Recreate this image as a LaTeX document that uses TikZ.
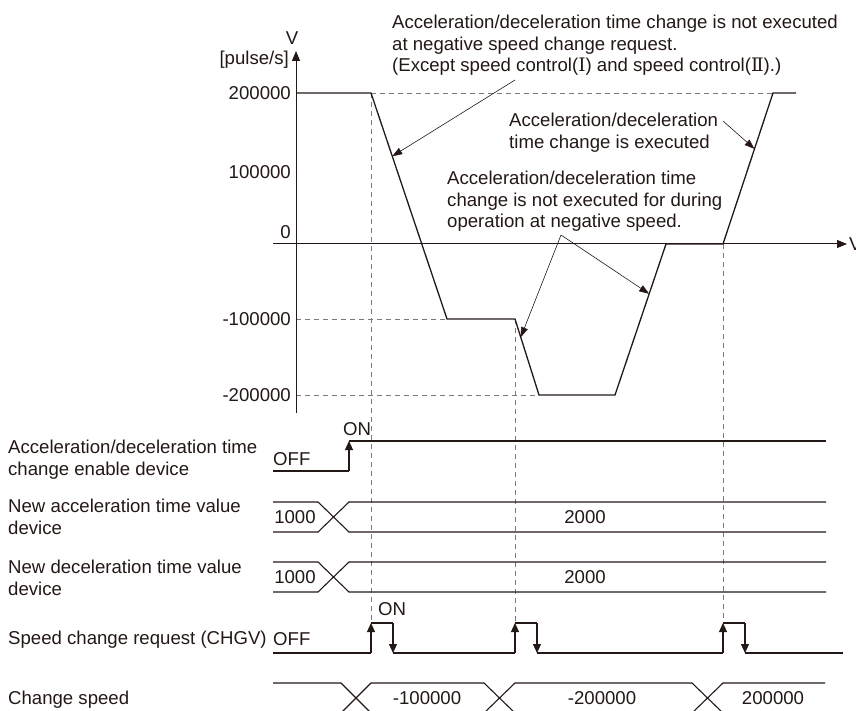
\documentclass[tikz,border=0pt]{standalone}
\usepackage{fontspec}
\setmainfont{Liberation Sans}
\newfontfamily\numeralfont{DejaVu Serif}
\usepackage{xcolor}
\usetikzlibrary{arrows.meta, calc}
\definecolor{ink}{HTML}{231815}
\definecolor{dashgrey}{HTML}{7a7a7a}

\begin{document}
\begin{tikzpicture}[x=1pt, y=-1pt, font=\fontsize{18.6}{21.6}\selectfont,
    wave/.style={draw=ink, line width=1.1pt},
    guideline/.style={draw=dashgrey, line width=0.9pt, dash pattern=on 5pt off 4pt},
    pointer/.style={draw=ink, line width=0.6pt, -{Triangle[length=10pt, width=7pt]}},
    edgeup/.style={wave, -{Triangle[length=9pt, width=8pt]}},
    txt/.style={inner sep=0pt, text=ink}]
  \useasboundingbox (0,0) rectangle (856,711);

  % Speed profile corners
  \coordinate (p0) at (296,93);
  \coordinate (p1) at (371,93);
  \coordinate (p2) at (447,319);
  \coordinate (p3) at (515,319);
  \coordinate (p4) at (539,395);
  \coordinate (p5) at (615,395);
  \coordinate (p6) at (666,244);
  \coordinate (p7) at (723,244);
  \coordinate (p8) at (773,93);
  \coordinate (p9) at (796,93);

  % Guides
  \draw[guideline] (p1) -- (p8);
  \draw[guideline] (296,319) -- (p2);
  \draw[guideline] (296,395) -- (p4);
  \foreach \x/\y in {371/93, 515/319, 723/244}
    \draw[guideline] (\x,\y) -- (\x,623);

  % Axes
  \draw[ink, line width=1pt, -{Triangle[length=10pt, width=8pt]}] (296,413) -- (296,51);
  \draw[ink, line width=1pt, -{Triangle[length=10pt, width=8pt]}] (273,244) -- (847,244);
  \node[txt] (vTop) at (292,38) {V};
  \node[txt, anchor=east] (unitLbl) at (289,60) {[pulse/s]};
  \node[txt, anchor=west] (vRight) at (849,244) {V};
  \foreach \y/\v [count=\i] in {93/200000, 172/100000, 232/0, 319/-100000, 395/-200000}
    \node[txt, anchor=east] (tick\i) at (291,\y) {\v};

  % Speed profile
  \draw[wave, line width=1.3pt] (p0) -- (p1) -- (p2) -- (p3) -- (p4) -- (p5) -- (p6) -- (p7) -- (p8) -- (p9);

  % Notes
  \node[txt, anchor=north west, align=left] (noteNeg) at (392,15)
    {Acceleration/deceleration time change is not executed\\at negative speed change request.\\(Except speed control({\numeralfont Ⅰ}) and speed control({\numeralfont Ⅱ}).)};
  \node[txt, anchor=north west, align=left] (noteExec) at (509,113)
    {Acceleration/deceleration\\time change is executed};
  \node[txt, anchor=north west, align=left] (noteHold) at (447,171)
    {Acceleration/deceleration time\\change is not executed for during\\operation at negative speed.};
  \coordinate (s1) at (515,80);
  \coordinate (s2) at (723,121);
  \coordinate (s3) at (561,235);
  \coordinate (t1) at ($(p1)!0.28!(p2)$);
  \coordinate (t2) at ($(p7)!0.63!(p8)$);
  \coordinate (t3) at ($(p3)!0.24!(p4)$);
  \coordinate (t4) at ($(p5)!0.67!(p6)$);
  \draw[pointer] (s1) -- (t1);
  \draw[pointer] (s2) -- (t2);
  \draw[pointer] (s3) -- (t3);
  \draw[pointer] (s3) -- (t4);

  % Timing chart labels
  \node[txt, anchor=north west, align=left] (enableLbl) at (8,440) {Acceleration/deceleration time\\change enable device};
  \node[txt, anchor=north west, align=left] (accLbl) at (8,499) {New acceleration time value\\device};
  \node[txt, anchor=north west, align=left] (decLbl) at (8,560) {New deceleration time value\\device};
  \node[txt, anchor=north west] (chgvLbl) at (8,631) {Speed change request (CHGV)};
  \node[txt, anchor=north west] (speedLbl) at (8,691) {Change speed};

  % Enable device
  \draw[wave] (273,471) -- (349,471);
  \draw[edgeup] (349,471) -- (349,441);
  \draw[wave] (349,441) -- (826,441);
  \node[txt, anchor=west] (off1) at (273,459) {OFF};
  \node[txt] (on1) at (357,429) {ON};

  % New time value devices
  \foreach \y [count=\i] in {502, 562} {
    \draw[wave] (273,\y) -- (318,\y) -- (349,\y+30) -- (826,\y+30);
    \draw[wave] (273,\y+30) -- (318,\y+30) -- (349,\y) -- (826,\y);
    \node[txt] (oldVal\i) at (295,\y+15) {1000};
    \node[txt] (newVal\i) at (585,\y+15) {2000};
  }

  % Speed change request
  \draw[wave] (273,653) -- (371,653);
  \foreach \x/\n in {371/515, 515/723, 723/843} {
    \draw[edgeup] (\x,653) -- (\x,623);
    \draw[wave] (\x,623) -- (\x+22,623);
    \draw[edgeup] (\x+22,623) -- (\x+22,653);
    \draw[wave] (\x+22,653) -- (\n,653);
  }
  \node[txt, anchor=west] (off2) at (273,639) {OFF};
  \node[txt] (on2) at (392,609) {ON};

  % Change speed
  \draw[wave] (273,683) -- (341,683) -- (371,713) -- (484,713) -- (515,683) -- (692,683) -- (723,713) -- (825,713);
  \draw[wave] (273,713) -- (341,713) -- (371,683) -- (484,683) -- (515,713) -- (692,713) -- (723,683) -- (825,683);
  \foreach \x/\v [count=\i] in {427/-100000, 602/-200000, 773/200000}
    \node[txt] (spd\i) at (\x,698) {\v};
\end{tikzpicture}
\end{document}
